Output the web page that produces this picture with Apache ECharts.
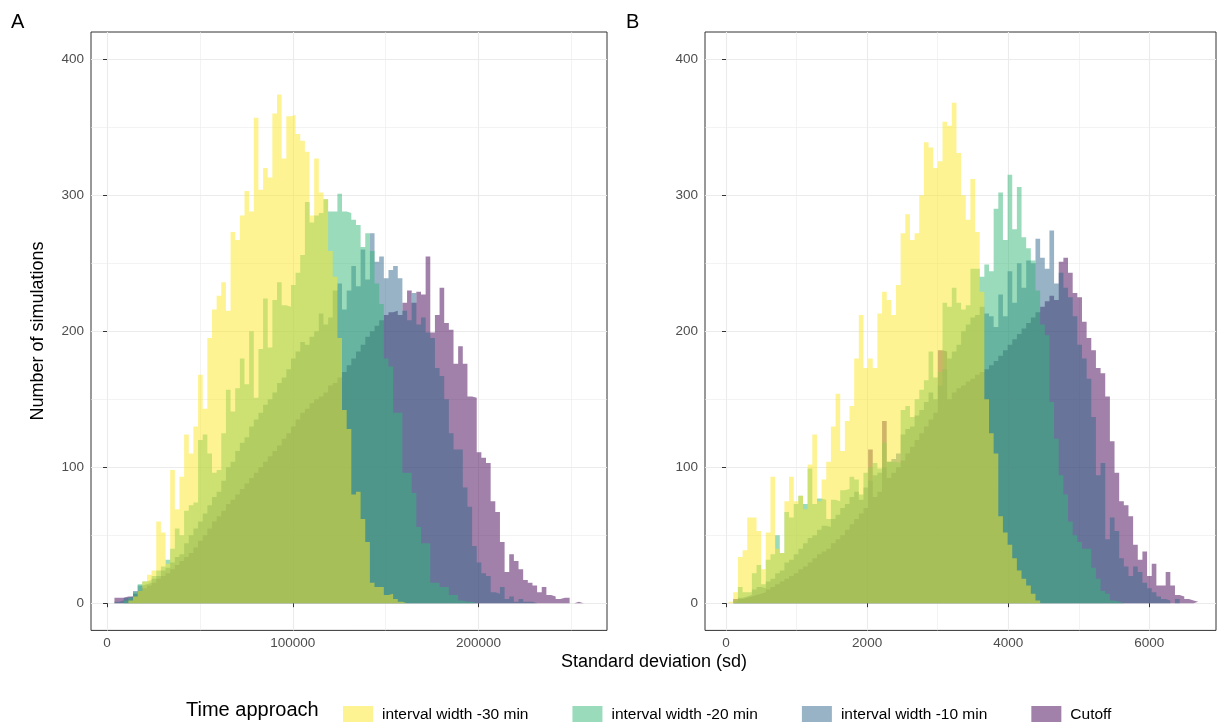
<!DOCTYPE html>
<html>
<head>
<meta charset="utf-8">
<script src="https://cdn.jsdelivr.net/npm/echarts@6/dist/echarts.min.js"></script>
<style>
html,body{margin:0;padding:0;background:#fff;}
#chart{width:1218px;height:722px;}
</style>
</head>
<body>
<div id="chart"></div>
<script>
// ---------------- DATA ----------------
const seriesNames = ['interval width -30 min', 'interval width -20 min', 'interval width -10 min', 'Cutoff'];
const legendTitle = 'Time approach';
const yTitle = 'Number of simulations';
const xTitle = 'Standard deviation (sd)';
const panelTags = ['A', 'B'];

// Panel A: bins start at 4000, width 2500 (101 bins)
const binStartA = 4000;
const binWidthA = 2500;
const ticksA = [0, 100000, 200000];
const minorTicksA = [50000, 150000, 250000];

const yellowA = [0,0,0,2,5,9,16,21,24,60,52,29,98,69,93,124,110,130,168,143,195,216,226,236,215,273,267,285,303,288,357,304,320,313,360,374,327,358,359,345,340,332,285,327,302,297,259,240,195,142,128,80,82,62,45,15,12,12,6,7,3,1,0,0,0,0,0,0,0,0,0,0,0,0,0,0,0,0,0,0,0,0,0,0,0,0,0,0,0,0,0,0,0,0,0,0,0,0,0,0,0];
const greenA  = [0,0,2,4,8,14,16,17,20,24,27,32,40,55,50,68,72,74,120,124,110,96,98,125,157,141,158,180,161,200,151,187,224,188,223,236,219,218,234,243,256,295,280,285,287,297,288,288,301,288,287,282,278,262,272,259,235,220,180,174,140,140,96,96,81,56,44,44,15,15,12,12,6,6,2,1,1,0,0,0,0,0,0,0,0,0,0,0,0,0,0,0,0,0,0,0,0,0,0,0,0];
const blueA   = [1,2,4,5,9,13,14,15,18,20,24,26,30,34,36,44,50,55,60,66,72,78,82,90,100,104,112,118,122,130,135,140,146,150,155,162,166,172,180,185,192,190,196,200,213,205,210,230,235,216,230,248,233,260,238,272,251,255,239,245,248,239,215,208,228,205,210,199,195,173,167,150,125,113,113,85,71,42,30,22,20,8,7,12,3,5,1,3,1,1,0,0,0,0,0,0,0,0,0,0,0];
const purpleA = [4,4,5,5,7,9,11,13,15,18,20,22,25,28,31,34,37,41,46,50,55,60,64,68,73,76,80,84,88,92,96,100,104,108,112,116,121,125,130,135,140,143,147,150,152,155,160,162,166,170,175,180,185,190,196,200,204,208,212,214,215,212,221,230,221,229,227,255,199,212,232,206,201,176,189,176,152,151,111,107,103,75,67,45,23,36,31,25,17,15,13,8,12,6,5,3,4,4,0,1,0];

// Panel B: bins start at 37, width 65.9 (101 bins)
const binStartB = 37;
const binWidthB = 65.9;
const ticksB = [0, 2000, 4000, 6000];
const minorTicksB = [1000, 3000, 5000];

const yellowB = [1,8,34,39,63,63,53,25,52,93,40,37,75,93,75,79,69,102,124,75,91,104,130,154,112,134,145,180,212,173,180,173,213,229,223,212,234,272,286,267,272,300,339,335,320,325,354,351,368,331,300,282,312,273,229,150,125,110,64,52,43,33,24,18,13,7,2,0,0,0,0,0,0,0,0,0,0,0,0,0,0,0,0,0,0,0,0,0,0,0,0,0,0,0,0,0,0,0,0,0,0];
const greenB  = [0,2,12,8,8,22,28,14,32,36,50,37,67,63,73,79,73,99,73,77,76,62,76,75,83,84,93,91,80,96,100,103,99,118,104,104,103,142,145,137,150,157,164,185,166,170,221,218,232,221,216,219,246,246,240,249,244,290,302,267,315,275,306,269,261,252,230,205,197,148,121,94,80,60,50,45,40,40,26,18,9,7,2,1,0,0,0,0,0,0,0,0,0,0,0,0,0,0,0,0,0];
const blueB   = [0,1,4,5,6,10,12,11,16,18,22,24,30,32,36,40,44,48,50,54,57,56,62,65,70,73,78,82,76,85,90,94,96,100,104,106,110,124,128,130,138,142,148,155,150,160,172,180,185,190,200,205,210,212,218,213,211,203,227,211,244,221,250,232,252,250,268,254,246,274,235,243,232,225,211,190,180,165,137,94,103,47,63,53,33,27,20,27,23,15,11,8,5,3,2,0,3,0,0,0,0];
const purpleB = [0,3,3,4,5,6,7,8,10,12,14,16,18,20,22,25,27,30,33,36,38,40,44,47,50,54,58,62,66,70,113,78,82,134,92,96,100,105,110,115,120,125,130,135,140,186,185,150,155,158,160,163,165,168,170,172,175,178,182,186,190,194,198,202,206,210,214,218,222,226,223,251,254,243,228,225,207,195,186,173,169,152,119,96,75,72,64,43,32,38,20,29,13,13,23,13,6,5,3,2,1];

const yTicks = [0, 100, 200, 300, 400];
const yMinorTicks = [50, 150, 250, 350];

// ---------------- STYLE ----------------
const FONT = '"Liberation Sans", Arial, sans-serif';
const colors = ['rgba(253,231,37,0.5)', 'rgba(53,183,121,0.5)', 'rgba(49,104,142,0.5)', 'rgba(68,1,84,0.5)'];
const GRID_COL = '#EBEBEB';

// histogram outline points (step) from counts
function stepPoints(start, bw, counts) {
  const pts = [];
  for (let i = 0; i < counts.length; i++) pts.push([start + i * bw, counts[i]]);
  pts.push([start + counts.length * bw, counts[counts.length - 1]]);
  return pts;
}

const panels = [
  {start: binStartA, bw: binWidthA, data: [yellowA, greenA, blueA, purpleA], ticks: ticksA, minor: minorTicksA,
   xmin: -8625, xmax: 269125, gLeft: 91, gWidth: 516},
  {start: binStartB, bw: binWidthB, data: [yellowB, greenB, blueB, purpleB], ticks: ticksB, minor: minorTicksB,
   xmin: -298, xmax: 6945, gLeft: 705, gWidth: 511}
];

const grids = [], xAxes = [], yAxes = [], series = [];
panels.forEach((p, gi) => {
  grids.push({left: p.gLeft, top: 32, width: p.gWidth, height: 598.4, show: true,
    borderColor: '#333333', borderWidth: 1, backgroundColor: '#fff', containLabel: false, outerBoundsMode: 'none'});
  xAxes.push({type: 'value', gridIndex: gi, min: p.xmin, max: p.xmax,
    axisLine: {show: false},
    axisTick: {show: true, length: 4, lineStyle: {color: '#333333'}, customValues: p.ticks},
    axisLabel: {color: '#4D4D4D', fontSize: 13.5, fontFamily: FONT, margin: 6, customValues: p.ticks,
      formatter: v => String(v)},
    splitLine: {show: true, lineStyle: {color: GRID_COL, width: 1.1}}
  });
  yAxes.push({type: 'value', gridIndex: gi, min: -20, max: 420,
    axisLine: {show: false},
    axisTick: {show: true, length: 4, lineStyle: {color: '#333333'}, customValues: yTicks},
    axisLabel: {color: '#4D4D4D', fontSize: 13.5, fontFamily: FONT, margin: 7, customValues: yTicks},
    splitLine: {show: true, lineStyle: {color: GRID_COL, width: 1.1}}
  });
  // minor grid lines via markLine on an empty series (drawn beneath the histograms)
  series.push({type: 'line', xAxisIndex: gi, yAxisIndex: gi, data: [], z: 0, silent: true,
    markLine: {silent: true, symbol: 'none', label: {show: false}, animation: false, z: 0,
      lineStyle: {color: GRID_COL, width: 0.6, type: 'solid'},
      data: p.minor.map(v => ({xAxis: v})).concat(yMinorTicks.map(v => ({yAxis: v})))}
  });
  // draw order: Cutoff, -10, -20, -30 (yellow on top)
  [3, 2, 1, 0].forEach(si => {
    series.push({
      name: seriesNames[si], type: 'line', xAxisIndex: gi, yAxisIndex: gi,
      data: stepPoints(p.start, p.bw, p.data[si]),
      step: 'end', showSymbol: false, symbol: 'none', silent: true, animation: false, z: 3 + (3 - si),
      lineStyle: {width: 0, color: colors[si]},
      itemStyle: {color: colors[si]},
      areaStyle: {color: colors[si], opacity: 1, origin: 0}
    });
  });
});

const chart = echarts.init(document.getElementById('chart'), null, {renderer: 'canvas'});
chart.setOption({
  animation: false,
  backgroundColor: '#ffffff',
  grid: grids, xAxis: xAxes, yAxis: yAxes, series: series,
  legend: {
    data: seriesNames, orient: 'horizontal', left: 338, top: 701,
    itemWidth: 30, itemHeight: 17, itemGap: 44, icon: 'rect',
    textStyle: {fontSize: 15.5, fontFamily: FONT, color: '#000', padding: [0, 0, 0, 4]},
    selectedMode: false
  },
  graphic: [
    {type: 'text', left: 11, top: 12, style: {text: panelTags[0], font: '20px ' + FONT, fill: '#000'}},
    {type: 'text', left: 626, top: 12, style: {text: panelTags[1], font: '20px ' + FONT, fill: '#000'}},
    {type: 'text', x: 38, y: 331, rotation: Math.PI / 2,
      style: {text: yTitle, font: '18px ' + FONT, fill: '#000', align: 'center', verticalAlign: 'middle'}},
    {type: 'text', x: 654, y: 662,
      style: {text: xTitle, font: '18px ' + FONT, fill: '#000', align: 'center', verticalAlign: 'middle'}},
    {type: 'text', x: 186, y: 710,
      style: {text: legendTitle, font: '20px ' + FONT, fill: '#000', align: 'left', verticalAlign: 'middle'}}
  ]
});
</script>
</body>
</html>
